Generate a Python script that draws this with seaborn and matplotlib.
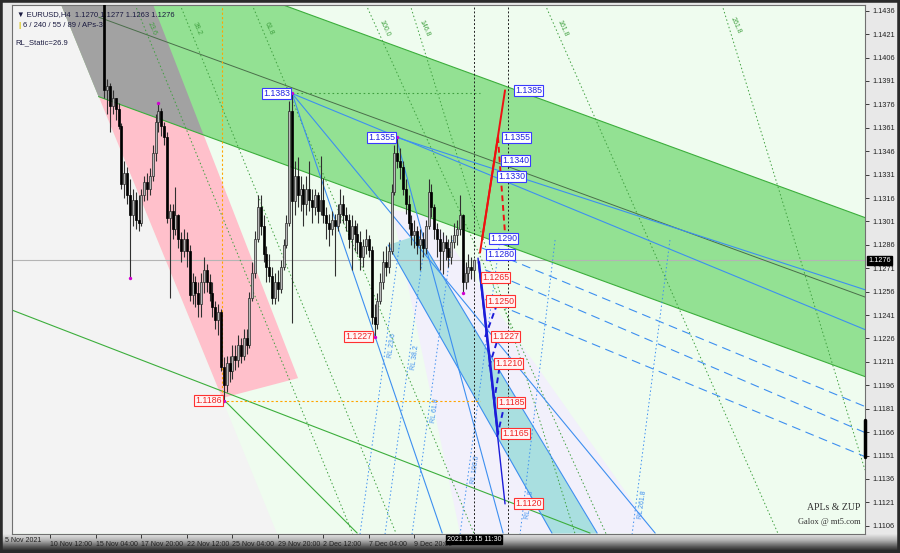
import matplotlib
matplotlib.use("Agg")
import matplotlib.pyplot as plt
import numpy as np
import seaborn as sns

sns.set_theme(style="white")
plt.rcParams["font.family"] = ["Liberation Sans", "DejaVu Sans"]

# ---- EURUSD H4 candles, bar index from FIRST_BAR, prices in pips above 1.0000
FIRST_BAR = 32
FIRST_OPEN = 1445
closes = [1385, 1388, 1375, 1380, 1373, 1362, 1325, 1332, 1318, 1305, 1315, 1302, 1300, 1318,
          1326, 1322, 1330, 1345, 1365, 1372, 1362, 1355, 1303, 1308, 1296, 1305, 1290, 1282,
          1290, 1282, 1254, 1262, 1255, 1248, 1262, 1270, 1262, 1255, 1246, 1238, 1243, 1208,
          1196, 1210, 1205, 1215, 1212, 1222, 1215, 1226, 1222, 1252, 1268, 1290, 1310, 1298,
          1280, 1272, 1266, 1252, 1262, 1258, 1272, 1286, 1300, 1372, 1314, 1330, 1318, 1322,
          1312, 1322, 1315, 1310, 1318, 1308, 1315, 1305, 1300, 1296, 1302, 1298, 1306, 1312,
          1305, 1302, 1290, 1298, 1293, 1288, 1278, 1285, 1290, 1283, 1240, 1235, 1250, 1262,
          1275, 1272, 1282, 1320, 1345, 1340, 1336, 1322, 1312, 1300, 1292, 1295, 1286, 1290,
          1284, 1298, 1320, 1310, 1296, 1290, 1282, 1288, 1284, 1278, 1288, 1292, 1296, 1305,
          1262, 1268, 1272, 1270, 1276]
highs = [1450, 1392, 1390, 1385, 1380, 1377, 1364, 1340, 1336, 1328, 1322, 1320, 1318, 1322,
         1330, 1332, 1335, 1350, 1370, 1377, 1374, 1365, 1358, 1312, 1312, 1323, 1306, 1294,
         1296, 1294, 1286, 1268, 1266, 1262, 1268, 1278, 1274, 1267, 1262, 1250, 1248, 1245,
         1214, 1215, 1215, 1222, 1222, 1228, 1226, 1232, 1232, 1256, 1275, 1295, 1318, 1318,
         1305, 1285, 1280, 1272, 1268, 1270, 1276, 1290, 1305, 1378, 1383, 1340, 1342, 1330,
         1325, 1330, 1340, 1322, 1322, 1320, 1343, 1329, 1310, 1306, 1308, 1306, 1312, 1322,
         1318, 1310, 1306, 1305, 1302, 1300, 1295, 1290, 1296, 1292, 1285, 1248, 1255, 1268,
         1282, 1285, 1288, 1325, 1350, 1355, 1348, 1340, 1328, 1318, 1305, 1302, 1298, 1296,
         1294, 1302, 1328, 1325, 1312, 1300, 1296, 1294, 1292, 1290, 1292, 1300, 1302, 1318,
         1306, 1275, 1280, 1278, 1277]
lows = [1380, 1370, 1358, 1370, 1366, 1360, 1322, 1316, 1312, 1265, 1298, 1296, 1295, 1298,
        1314, 1315, 1318, 1327, 1340, 1358, 1356, 1350, 1300, 1252, 1290, 1292, 1284, 1275,
        1278, 1272, 1250, 1248, 1246, 1240, 1240, 1255, 1256, 1250, 1240, 1232, 1228, 1205,
        1186, 1192, 1198, 1200, 1206, 1208, 1210, 1212, 1216, 1220, 1250, 1265, 1288, 1292,
        1275, 1262, 1262, 1248, 1248, 1250, 1255, 1270, 1284, 1298, 1236, 1305, 1310, 1308,
        1298, 1305, 1308, 1300, 1305, 1300, 1305, 1300, 1290, 1285, 1292, 1266, 1295, 1300,
        1300, 1295, 1284, 1270, 1282, 1280, 1270, 1272, 1280, 1278, 1235, 1227, 1232, 1248,
        1258, 1266, 1268, 1280, 1318, 1335, 1328, 1318, 1306, 1296, 1286, 1284, 1280, 1270,
        1278, 1280, 1296, 1304, 1290, 1278, 1270, 1267, 1276, 1272, 1274, 1284, 1286, 1292,
        1255, 1258, 1262, 1264, 1263]

# swing points marked with magenta dots (bar, price)
swing_bars = [41, 51, 74, 98, 127, 135, 158]
swing_prices = [1.1265, 1.1377, 1.1186, 1.1383, 1.1227, 1.1355, 1.1255]

# ---- axes scales
price_ticks = [1.1106, 1.1121, 1.1136, 1.1151, 1.1166, 1.1181, 1.1196, 1.1211, 1.1226, 1.1241,
               1.1256, 1.1271, 1.1286, 1.1301, 1.1316, 1.1331, 1.1346, 1.1361, 1.1376, 1.1391,
               1.1406, 1.1421, 1.1436]
date_ticks = [13, 29, 45, 61, 77, 93, 109, 125, 141]
date_labels = ["10 Nov 12:00", "15 Nov 04:00", "17 Nov 20:00", "22 Nov 12:00", "25 Nov 04:00",
               "29 Nov 20:00", "2 Dec 12:00", "7 Dec 04:00", "9 Dec 20:00"]
current_bar = 162
current_price = 1.1276

# ---- drawn objects, vertices as (bar, price)
gray_zone = [(-0.5, 1.1440), (16.74, 1.1440), (92.7, 1.1101), (-0.5, 1.1101)]
pink_tri = [(16.74, 1.1440), (49.1, 1.1440), (100.1, 1.12006), (73.4, 1.11878)]
green_band = [(16.74, 1.1440), (29.93, 1.1381), (299.9, 1.12013), (299.9, 1.13032), (94.47, 1.1440)]
overlap = [(16.74, 1.1440), (49.1, 1.1440), (66.86, 1.13565), (29.93, 1.1381)]
lavender = [(133.2, 1.13083), (146.5, 1.1305), (225.7, 1.1101), (157.1, 1.1101)]
cyan_band = [(131.8, 1.12859), (142.3, 1.12923), (205.3, 1.1101), (189.4, 1.1101)]

green_lines = [[(29.93, 1.1381), (299.9, 1.12013)],
               [(94.47, 1.1440), (299.9, 1.13032)],
               [(-0.5, 1.12442), (202.8, 1.11013)],
               [(73.4, 1.11878), (120.9, 1.11013)]]
mid_line = [(30.0, 1.14319), (299.9, 1.12523)]
blue_lines = [[(97.99, 1.1383), (299.9, 1.12314)],
              [(97.99, 1.1383), (225.7, 1.11013)],
              [(97.99, 1.1383), (150.8, 1.11013)],
              [(134.6, 1.1355), (299.9, 1.1257)],
              [(134.6, 1.1355), (172.2, 1.11013)],
              [(131.8, 1.12859), (189.4, 1.11013)],
              [(142.3, 1.12923), (205.3, 1.11013)]]
blue_dashed = [[(164.8, 1.1284), (299.9, 1.11821)],
               [(165.9, 1.1270), (299.9, 1.11654)],
               [(165.9, 1.1251), (299.9, 1.11500)]]
green_dotted = [[(42.76, 1.1440), (119.3, 1.1101)],
                [(58.59, 1.1440), (134.6, 1.1101)],
                [(83.92, 1.1440), (162.0, 1.1101)],
                [(124.0, 1.1440), (208.4, 1.1101)],
                [(139.5, 1.1440), (197.5, 1.1101)],
                [(187.0, 1.1440), (268.9, 1.1101)],
                [(249.2, 1.1440), (299.5, 1.11417)]]
green_dotted_tags = ["23.6", "38.2", "61.8", "100.0", "146.8", "161.8", "261.8"]
rl_lines = [[(136.0, 1.12891), (121.9, 1.11007)],
            [(144.8, 1.12891), (130.7, 1.11007)],
            [(154.3, 1.12891), (140.2, 1.11007)],
            [(171.1, 1.12891), (157.1, 1.11007)],
            [(190.5, 1.12891), (178.2, 1.11007)],
            [(230.9, 1.12891), (217.6, 1.11007)]]
rl_tags = ["RL 23.6", "RL 38.2", "RL 61.8", "RL 100.0", "RL 161.8", "RL 261.8"]
rl_tag_frac = [0.36, 0.40, 0.58, 0.78, 0.90, 0.90]

red_solid = [[(164.1, 1.1281), (172.9, 1.1385)], [(164.8, 1.1289), (170.4, 1.1355)]]
red_dashed = [[(170.4, 1.1355), (172.9, 1.1293)]]
blue_zz_thin = [(163.4, 1.12775), (172.9, 1.1120)]
blue_zz_thick = [(163.7, 1.1275), (170.4, 1.1165)]
blue_zz_dashed = [[(165.9, 1.1227), (170.1, 1.1248)], [(167.3, 1.1208), (170.4, 1.1226)],
                  [(169.0, 1.1185), (171.1, 1.1209)], [(170.1, 1.1163), (172.9, 1.1185)]]

blue_tags = [("1.1383", 97.3, 1.1383, "right"), ("1.1355", 134.2, 1.1355, "right"),
             ("1.1385", 176.4, 1.1385, "left"), ("1.1355", 172.2, 1.1355, "left"),
             ("1.1340", 171.9, 1.1340, "left"), ("1.1330", 170.4, 1.1330, "left"),
             ("1.1290", 167.6, 1.1290, "left"), ("1.1280", 166.6, 1.1280, "left")]
red_tags = [("1.1227", 126.1, 1.1227, "right"), ("1.1186", 73.4, 1.1186, "right"),
            ("1.1265", 164.8, 1.1265, "left"), ("1.1250", 166.6, 1.1250, "left"),
            ("1.1227", 168.3, 1.1227, "left"), ("1.1210", 169.4, 1.1210, "left"),
            ("1.1185", 170.4, 1.1185, "left"), ("1.1165", 171.9, 1.1165, "left"),
            ("1.1120", 176.4, 1.1120, "left")]


def seg(ax, pts, **kw):
    xs, ys = zip(*pts)
    ax.plot(xs, ys, **kw)


fig = plt.figure(figsize=(9, 5.53), dpi=100, facecolor="#e8e8e8")

# bottom bevel of the terminal window
bax = fig.add_axes([0, 0, 1, 19 / 553], zorder=-1)
grad = np.linspace(0, 1, 32).reshape(-1, 1)
bax.imshow(grad, aspect="auto", cmap=matplotlib.colors.LinearSegmentedColormap.from_list(
    "bev", ["#e6e6e6", "#b0b0b0", "#5a5a5a", "#111111"]), extent=(0, 1, 0, 1), origin="upper")
bax.set_axis_off()

ax = fig.add_axes([12 / 900, 19 / 553, 853 / 900, 529 / 553])
ax.set_facecolor("#effcef")
ax.set_xlim(-0.5, 299.5)
ax.set_ylim(1.11007, 1.14397)

# filled zones
for poly, col, z in [(gray_zone, "#f3f3f3", 0.5), (lavender, "#f2f0fb", 0.6),
                     (cyan_band, "#a9dfe0", 0.7), (pink_tri, "#ffc0cb", 0.8),
                     (green_band, "#93e193", 0.9), (overlap, "#a2a2a2", 1.0)]:
    xs, ys = zip(*poly)
    ax.fill(xs, ys, color=col, lw=0, zorder=z)

ax.axhline(current_price, color="#b4b4b4", lw=0.8, zorder=1.2)
for pts in green_lines:
    seg(ax, pts, color="#3cae3c", lw=0.8, zorder=1.5)
seg(ax, mid_line, color="#4a6e4a", lw=0.7, zorder=1.5)
for pts, tag in zip(green_dotted, green_dotted_tags):
    seg(ax, pts, color="#3f9f3f", lw=0.7, ls=(0, (1.5, 2.5)), zorder=1.5)
    (x0, y0), (x1, y1) = pts
    ax.text(x0 + 0.045 * (x1 - x0) + 2.5, y0 + 0.045 * (y1 - y0), tag, rotation=-66,
            fontsize=5, color="#3f9f3f", ha="center", va="center", zorder=1.5)
for pts, tag, fr in zip(rl_lines, rl_tags, rl_tag_frac):
    seg(ax, pts, color="#3d8ff0", lw=0.7, ls=(0, (1.5, 2.5)), zorder=1.6)
    (x0, y0), (x1, y1) = pts
    ax.text(x0 + fr * (x1 - x0) + 2.2, y0 + fr * (y1 - y0), tag, rotation=82,
            fontsize=5, color="#3d8ff0", ha="center", va="center", zorder=1.6)
for pts in blue_lines:
    seg(ax, pts, color="#3d8ff0", lw=0.8, zorder=1.6)
for pts in blue_dashed:
    seg(ax, pts, color="#3d8ff0", lw=0.8, ls=(0, (8, 5)), zorder=1.6)

# reference levels
ax.plot([73.4, 73.4], [1.1186, 1.1440], color="#ffa500", lw=0.8, ls=(0, (2, 2)), zorder=1.7)
ax.plot([73.4, 164], [1.1186, 1.1186], color="#ffa500", lw=0.8, ls=(0, (2, 2)), zorder=1.7)
ax.plot([98, 164], [1.1383, 1.1383], color="#3f9f3f", lw=0.8, ls=(0, (1.5, 2.5)), zorder=1.7)
for xb in [current_bar, 174.0]:
    ax.axvline(xb, color="#202020", lw=0.7, ls=(0, (2, 2)), zorder=1.8)

# candles
opens = [FIRST_OPEN] + closes[:-1]
bars = np.arange(FIRST_BAR, FIRST_BAR + len(closes))
o = 1 + np.array(opens) / 10000
c = 1 + np.array(closes) / 10000
h = 1 + np.array(highs) / 10000
l = 1 + np.array(lows) / 10000
up = c >= o
ax.vlines(bars, l, h, color="#303030", lw=0.8, zorder=3)
ax.bar(bars[up], (c - o)[up], bottom=o[up], width=0.7, color="#b9b9b9",
       edgecolor="#2a2a2a", lw=0.5, zorder=3.1)
ax.bar(bars[~up], (o - c)[~up], bottom=c[~up], width=0.7, color="#000000",
       edgecolor="#000000", lw=0.5, zorder=3.1)
sns.scatterplot(x=swing_bars, y=swing_prices, color="#d000d0", s=6, linewidth=0,
                ax=ax, zorder=4)

# zigzag projections
for pts in red_solid:
    seg(ax, pts, color="#ee1111", lw=1.4, zorder=5)
for pts in red_dashed:
    seg(ax, pts, color="#ee1111", lw=1.4, ls=(0, (3, 2)), zorder=5)
seg(ax, blue_zz_thin, color="#1c1cd8", lw=1.0, zorder=5)
seg(ax, blue_zz_thick, color="#1c1cd8", lw=1.8, zorder=5)
for pts in blue_zz_dashed:
    seg(ax, pts, color="#1c1cd8", lw=1.4, ls=(0, (3, 2)), zorder=5)

for txt, xb, yp, side in blue_tags:
    ax.text(xb, yp, txt, fontsize=6.3, color="#1f1fe0", ha=side, va="center", zorder=6,
            bbox=dict(boxstyle="square,pad=0.12", fc="white", ec="#3a3aff", lw=0.8))
for txt, xb, yp, side in red_tags:
    ax.text(xb, yp, txt, fontsize=6.3, color="#ee2222", ha=side, va="center", zorder=6,
            bbox=dict(boxstyle="square,pad=0.12", fc="#fff4f4", ec="#ff3030", lw=0.8))

# axes look
for sp in ax.spines.values():
    sp.set_color("#707070")
    sp.set_linewidth(0.8)
ax.yaxis.tick_right()
ax.set_yticks(price_ticks)
ax.set_yticklabels([f"{v:.4f}" for v in price_ticks])
ax.set_xticks(date_ticks)
ax.set_xticklabels(date_labels, ha="left")
ax.tick_params(axis="y", right=True, length=3, width=0.6, colors="#202020", labelsize=5.3, pad=2)
ax.tick_params(axis="x", bottom=True, length=3, width=0.6, colors="#202020", labelsize=5.0, pad=2)
ax.text(-0.008, -0.006, "5 Nov 2021", transform=ax.transAxes, fontsize=5.0,
        color="#202020", ha="left", va="top")
ax.text(current_bar, -0.004, "2021.12.15 11:30", transform=ax.get_xaxis_transform(),
        fontsize=5.0, color="white", ha="center", va="top",
        bbox=dict(boxstyle="square,pad=0.15", fc="black", ec="black"))
ax.text(1.004, current_price, f"{current_price:.4f}", transform=ax.get_yaxis_transform(),
        fontsize=5.3, color="white", ha="left", va="center",
        bbox=dict(boxstyle="square,pad=0.15", fc="black", ec="black"))
ax.plot([1.0, 1.0], [1.11738, 1.11500], transform=ax.get_yaxis_transform(), color="black",
        lw=2.5, clip_on=False, zorder=7)

# header and footer texts
ax.text(0.006, 0.988, "\u25bc EURUSD,H4  1.1270 1.1277 1.1263 1.1276", transform=ax.transAxes,
        fontsize=5.5, color="#1a1a40", va="top")
ax.text(0.008, 0.968, "|", transform=ax.transAxes, fontsize=5.5, color="#d8c000",
        fontweight="bold", va="top")
ax.text(0.013, 0.968, "6 / 240 / 55 / 89 / APs-3", transform=ax.transAxes,
        fontsize=5.5, color="#1a1a40", va="top")
ax.text(0.004, 0.935, "RL_Static=26.9", transform=ax.transAxes,
        fontsize=5.5, color="#1a1a40", va="top")
ax.text(0.995, 0.045, "APLs & ZUP", transform=ax.transAxes, fontsize=7,
        family=["Liberation Serif", "DejaVu Serif"], color="#303030", ha="right")
ax.text(0.995, 0.018, "Galox @ mt5.com", transform=ax.transAxes, fontsize=6,
        family=["Liberation Serif", "DejaVu Serif"], color="#303030", ha="right")

# outer frame
fig.patches.append(plt.Rectangle((0, 0), 1, 1, transform=fig.transFigure, fill=False,
                                 ec="#2a2a2a", lw=4, zorder=10))

fig.savefig("out.png", dpi=100, facecolor=fig.get_facecolor())
